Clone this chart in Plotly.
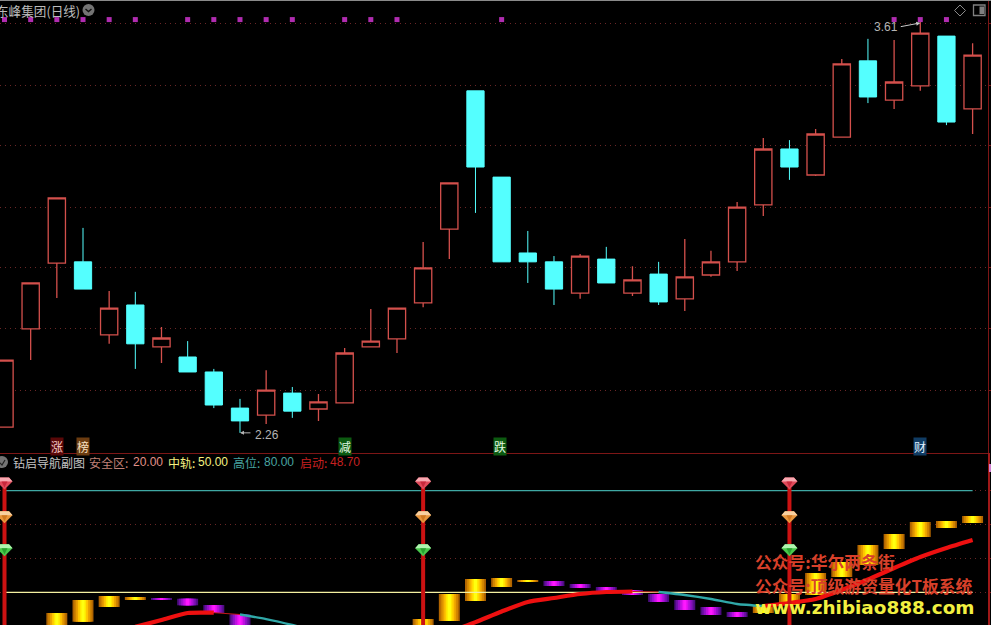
import plotly.graph_objects as go

W, H = 991, 625

# ---- price panel data ----
opens = [2.279,2.600,2.815,2.819,2.580,2.678,2.541,2.508,2.459,2.341,2.318,2.390,2.338,2.358,2.541,2.567,2.685,2.926,3.378,3.096,2.848,2.819,2.717,2.828,2.717,2.779,2.698,2.776,2.819,3.005,3.188,3.103,3.227,3.476,3.348,3.394,3.557,3.319]
closes = [2.498,2.750,3.028,2.730,2.668,2.551,2.570,2.459,2.351,2.299,2.400,2.331,2.361,2.521,2.560,2.668,2.799,3.077,3.129,2.819,2.819,2.730,2.838,2.750,2.760,2.688,2.770,2.819,2.998,3.188,3.129,3.237,3.466,3.358,3.407,3.567,3.276,3.495]
highs = [2.498,2.750,3.028,2.930,2.724,2.721,2.606,2.560,2.469,2.371,2.465,2.410,2.387,2.537,2.665,2.668,2.884,3.077,3.378,3.096,2.920,2.838,2.845,2.868,2.805,2.819,2.894,2.855,3.015,3.224,3.217,3.253,3.482,3.548,3.544,3.610,3.557,3.534]
lows = [2.279,2.498,2.701,2.730,2.551,2.469,2.488,2.459,2.341,2.260,2.289,2.309,2.299,2.358,2.541,2.521,2.671,2.828,2.979,2.819,2.750,2.678,2.698,2.750,2.707,2.678,2.658,2.770,2.789,2.969,3.087,3.100,3.227,3.338,3.319,3.378,3.266,3.237]
price_grid = [3.597,3.397,3.198,2.998,2.799,2.600,2.400]
flag_index = [0,1,2,3,4,5,7,8,9,10,11,13,14,15,19,34,35,36]
flag_price = [3.611]*len(flag_index)

# ---- indicator panel data ----
gold_index = [2,3,4,5,16,17,18,19,20,29,30,31,32,33,34,35,36,37]
gold_top = [43.89,47.73,48.91,48.61,42.12,49.50,53.93,54.22,53.63,45.96,49.50,55.70,58.95,63.97,67.21,70.76,71.05,72.53]
gold_bot = [38.0,41.32,45.66,47.73,38.0,41.53,47.43,51.56,53.04,43.89,46.25,49.20,54.52,58.06,62.78,66.33,68.98,70.46]
purple_index = [6,7,8,9,21,22,23,24,25,26,27,28]
purple_top = [48.32,48.11,46.25,43.50,53.34,52.45,51.56,50.68,49.50,47.73,45.66,44.18]
purple_bot = [48.02,46.16,43.89,38.0,51.86,51.27,50.38,49.20,47.14,44.77,43.30,42.71]

red_a_x = [5,6,7,8]; red_a_y = [39.8,41.8,43.89,43.98]
thin_a_x = [8,9]; thin_a_y = [43.98,43.45]
cyan_a_x = [9,10,11,12]; cyan_a_y = [43.45,42.1,40.35,38.3]
red_b_x = [17,18,19,20,21,22,23,24]; red_b_y = [38.3,41.2,44.33,47.14,48.32,49.5,50.09,50.24]
thin_b_x = [24,25]; thin_b_y = [50.24,50.09]
cyan_b_x = [25,26,27,28,29]; cyan_b_y = [50.09,49.2,48.02,46.55,45.96]
red_c_x = [29,30,31,32,33,34,35,36,37]; red_c_y = [45.96,46.84,48.02,50.68,53.78,57.18,60.42,63.08,65.44]

level_high, level_mid = 80, 50
osc_grid = [80,70,60,50]
signal_index = [0,16,30]
gem_levels = [83.9, 73.9, 64.2]

n = len(opens)
xs = list(range(n))

# ---- geometry ----
split = 453
px_x0, px_dx = 4.5, 26.165
xr = [(0-px_x0)/px_dx, (988-px_x0)/px_dx]
y2r = [40.35, 91.13]
y2_per_px = (y2r[1]-y2r[0])/(H-split)
def PX(x): return x/W
def PY(y): return 1-y/H

fig = go.Figure()
fig.add_trace(go.Candlestick(
    x=xs, open=opens, high=highs, low=lows, close=closes, xaxis="x", yaxis="y",
    increasing=dict(line=dict(color="#d4504c", width=1.3), fillcolor="#000000"),
    decreasing=dict(line=dict(color="#54ffff", width=1.0), fillcolor="#54ffff"),
    whiskerwidth=0, hoverinfo="skip"))
fig.add_trace(go.Scatter(x=flag_index, y=flag_price, mode="markers", xaxis="x", yaxis="y",
    marker=dict(symbol="square", size=5, color="#b02cb0"), hoverinfo="skip"))

gold_ramp = ["#b06400","#d08400","#eba000","#ffc400","#ffe800","#ffff10"]
purple_ramp = ["#4c0c80","#7010a8","#9410c8","#bc10e0","#e010f0","#ff18ff"]
widths = [0.80,0.66,0.52,0.38,0.24,0.12]
for idx, top, bot, ramp in [(gold_index,gold_top,gold_bot,gold_ramp),(purple_index,purple_top,purple_bot,purple_ramp)]:
    for col, w in zip(ramp, widths):
        fig.add_trace(go.Bar(x=idx, y=[t-b for t,b in zip(top,bot)], base=bot, width=w,
            marker=dict(color=col, line=dict(width=0)), xaxis="x2", yaxis="y2", hoverinfo="skip"))

fig.add_trace(go.Scatter(x=[xs[0],xs[-1]], y=[level_high]*2, mode="lines", xaxis="x2", yaxis="y2",
    line=dict(color="#3fa8a4", width=1.2), hoverinfo="skip"))
fig.add_trace(go.Scatter(x=[xs[0],xs[-1]], y=[level_mid]*2, mode="lines", xaxis="x2", yaxis="y2",
    line=dict(color="#f4f0a0", width=1.2), hoverinfo="skip"))
for sx, sy, col, w in [(red_a_x,red_a_y,"#ee1010",4.2),(red_b_x,red_b_y,"#ee1010",4.2),(red_c_x,red_c_y,"#ee1010",4.2),
                       (thin_a_x,thin_a_y,"#c01818",1),(thin_b_x,thin_b_y,"#c01818",1),
                       (cyan_a_x,cyan_a_y,"#30a8a8",2.4),(cyan_b_x,cyan_b_y,"#30a8a8",2.4)]:
    fig.add_trace(go.Scatter(x=sx, y=sy, mode="lines", xaxis="x2", yaxis="y2",
        line=dict(color=col, width=w, shape="spline", smoothing=0.6), hoverinfo="skip"))
for s in signal_index:
    fig.add_trace(go.Scatter(x=[s,s], y=[gem_levels[0]-3,38], mode="lines", xaxis="x2", yaxis="y2",
        line=dict(color="#cc1212", width=4), hoverinfo="skip"))

CJK = "Noto Sans CJK SC"
LAT = "Liberation Sans"
anns = []
def text(t, x, y, color, size=12, family=CJK, anchor="left", bg=None):
    d = dict(text=t, xref="paper", yref="paper", x=PX(x), y=PY(y), xanchor=anchor, yanchor="middle",
             showarrow=False, font=dict(color=color, size=size, family=family), borderpad=0)
    if bg: d["bgcolor"] = bg
    anns.append(d)

text("东峰集团(日线)", -5.5, 10, "#bcbcbc", 12.6)
text("钻启导航副图", 12, 462, "#c4c4c4", 12)
text("安全区:", 88, 462, "#c08078", 12)
text("20.00", 132, 462, "#e09088", 12, LAT)
text("中轨:", 167, 462, "#f4f080", 12)
text("50.00", 197, 462, "#f4f080", 12, LAT)
text("高位:", 232, 462, "#48a4a0", 12)
text("80.00", 263, 462, "#48a4a0", 12, LAT)
text("启动:", 299, 462, "#c82020", 12)
text("48.70", 329, 462, "#c82020", 12, LAT)
for t, x, bg, col in [("涨",57,"#5a0808","#f4c8c8"),("榜",82.5,"#6c3c10","#f8e0c0"),("减",344.5,"#0c5a10","#e0f8e0"),
                      ("跌",500.5,"#0c5a10","#e0f8e0"),("财",919.5,"#103c64","#e0f0ff")]:
    text(t, x, 446, col, 12, CJK, "center", bg)
text("2.26", 254, 435, "#b4b4b4", 12, LAT)
text("3.61", 873, 27, "#b4b4b4", 12, LAT)
anns.append(dict(x=9, y=2.26, xref="x", yref="y", ax=12, ay=0, text="", showarrow=True, arrowhead=2,
                 arrowwidth=1, arrowsize=0.8, arrowcolor="#b4b4b4"))
anns.append(dict(x=35, y=3.60, xref="x", yref="y", ax=-21, ay=4, text="", showarrow=True, arrowhead=2,
                 arrowwidth=1, arrowsize=0.8, arrowcolor="#c8c8c8"))
text("<b>公众号:华尔两条街</b>", 754, 562, "#d8402a", 16.8, CJK)
text("<b>公众号:顶级游资量化T板系统</b>", 754, 585.5, "#d8402a", 16.8, CJK)
text("<b>www.zhibiao888.com</b>", 754, 607, "#f2f040", 18.4, "DejaVu Sans")

def rect(x0,y0,x1,y1,**kw):
    return dict(type="rect", xref="paper", yref="paper", x0=PX(x0), x1=PX(x1), y0=PY(y0), y1=PY(y1), **kw)
def circle(cx,cy,r,color):
    return dict(type="circle", xref="paper", yref="paper", x0=PX(cx-r), x1=PX(cx+r), y0=PY(cy-r), y1=PY(cy+r),
                fillcolor=color, line=dict(width=0))
def poly(pts, color, width=1.2, closed=False):
    p = "M" + " L".join(f"{PX(x):.5f},{PY(y):.5f}" for x,y in pts) + (" Z" if closed else "")
    return dict(type="path", xref="paper", yref="paper", path=p, line=dict(color=color, width=width))

shapes = [
    rect(0,0,W,1, fillcolor="#8a8a8a", line=dict(width=0)),
    circle(88.5,10,6,"#747474"),
    poly([(85.5,9),(88.5,11.5),(91.5,9)], "#111111", 1.4),
    circle(2,462,6,"#747474"),
    poly([(-1,462),(2,465),(5,460)], "#222222", 1.2),
    poly([(960,5),(965.5,10.5),(960,16),(954.5,10.5)], "#8a8a8a", 1, True),
    dict(type="rect", xref="paper", yref="paper", x0=PX(973.5), x1=PX(985), y0=PY(5), y1=PY(15.5),
         line=dict(color="#808080", width=1.3)),
    rect(979.5,6.5,984,14, fillcolor="#808080", line=dict(width=0)),
    rect(989,464,991,472, fillcolor="#d080d0", line=dict(width=0)),
]

# gems are drawn in indicator-axis coordinates, scaled from a small pixel outline
def gem_path(cx, top, pts):
    return "M" + " L".join(f"{cx+dx/px_dx:.4f},{top-dy*y2_per_px:.3f}" for dx,dy in pts) + " Z"
gem_colors = [("#e04a5a","#f8a8b0","#c8283c"),("#e8963c","#f8d0a0","#d07820"),("#48c84c","#b0f4b0","#28a030")]
for lvl, (body, light, dark) in zip(gem_levels, gem_colors):
    for s in signal_index:
        for pts, col in [([(-4.5,0),(4.5,0),(8,4),(0,12),(-8,4)], body),
                         ([(-4.5,0),(4.5,0),(8,4),(-8,4)], light),
                         ([(-3,4),(3,4),(0,10)], dark)]:
            shapes.append(dict(type="path", xref="x2", yref="y2", path=gem_path(s, lvl, pts),
                               fillcolor=col, line=dict(width=0), layer="above"))

spine = "#7c1616"
grid = "#6a2626"
dom_split = 1 - split/H
x_common = dict(range=xr, domain=[0, 988/W], showticklabels=False, ticks="", showgrid=False, zeroline=False, fixedrange=True)
fig.update_layout(
    width=W, height=H, margin=dict(l=0,r=0,t=0,b=0), paper_bgcolor="#000000", plot_bgcolor="#000000",
    showlegend=False, barmode="overlay", boxgap=0.34, boxgroupgap=0, annotations=anns, shapes=shapes, hovermode=False,
    xaxis=dict(anchor="y", rangeslider=dict(visible=False), showline=True, linecolor=spine, linewidth=1, **x_common),
    xaxis2=dict(anchor="y2", showline=False, **x_common),
    yaxis=dict(domain=[dom_split,1], range=[3.675-0.003269*split, 3.675], anchor="x", side="right",
               tickvals=price_grid, showticklabels=False, ticks="outside", ticklen=3, tickcolor=spine,
               showgrid=True, gridcolor=grid, griddash="1px,4px", gridwidth=1, zeroline=False,
               showline=True, linecolor=spine, linewidth=1, fixedrange=True),
    yaxis2=dict(domain=[0,dom_split], range=y2r, anchor="x2", side="right",
               tickvals=osc_grid, showticklabels=False, ticks="outside", ticklen=3, tickcolor=spine,
               showgrid=True, gridcolor=grid, griddash="1px,4px", gridwidth=1, zeroline=False,
               showline=True, linecolor="#a01818", linewidth=1.5, fixedrange=True),
)
fig.write_html("out.html", config={"displayModeBar": False},
               post_script="document.body.style.margin='0';document.body.style.background='#000';")
